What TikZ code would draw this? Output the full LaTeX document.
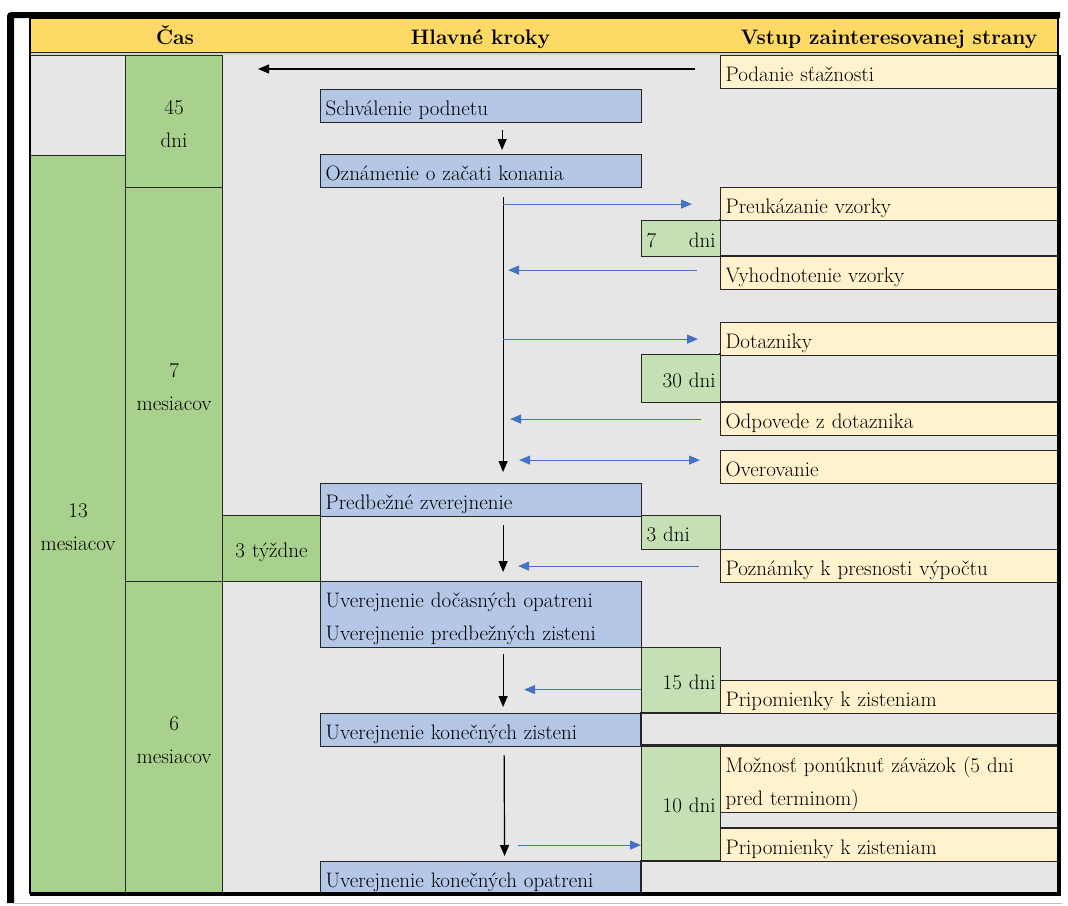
\documentclass[tikz,border=0pt]{standalone}
\usepackage{fontspec}
\usetikzlibrary{arrows.meta}
\definecolor{headbg}{RGB}{255,217,102}
\definecolor{greybg}{RGB}{231,230,230}
\definecolor{periodbg}{RGB}{169,209,142}
\definecolor{daysbg}{RGB}{197,224,180}
\definecolor{stepbg}{RGB}{180,199,231}
\definecolor{inputbg}{RGB}{255,242,204}
\definecolor{feedblue}{RGB}{68,114,196}
\definecolor{gridline}{RGB}{38,38,38}
\newcommand{\rowstrut}{\rule[-7.5pt]{0pt}{33pt}}

\begin{document}
\begin{tikzpicture}[x=1pt, y=-1pt,
    >={Triangle[length=11pt,width=9pt]},
    cell/.style={draw=gridline, line width=1.2pt, anchor=north west, inner xsep=5pt, inner ysep=0pt,
        font=\fontsize{21}{33}\selectfont, execute at begin node=\rowstrut, execute at end node=\rowstrut},
    stepbox/.style={cell, fill=stepbg, text width=311pt, align=left, minimum height=#1},
    stepbox/.default=32pt,
    inputbox/.style={cell, fill=inputbg, text width=328pt, align=left, minimum height=#1},
    inputbox/.default=33pt,
    daysbox/.style={cell, fill=daysbg, text width=69pt, align=right, minimum height=#1},
    periodbox/.style 2 args={cell, fill=periodbg, inner xsep=1pt, text width=#1, align=center, minimum height=#2},
    headtext/.style={font=\fontsize{21}{33}\selectfont\bfseries, inner sep=0pt, execute at begin node=\rowstrut},
    flow/.style={black, line width=1.2pt, ->},
    feed/.style={feedblue, line width=1.2pt, ->}
]
    \useasboundingbox (0,0) rectangle (1068,905);

    % Frame
    \fill[black] (7,903) [rounded corners=4pt] -- (7,12) [sharp corners] -- (1060,12) -- (1060,18) -- (14,18) -- (14,903) -- cycle;
    \draw[gray!50, line width=1pt] (14,903) -- (1062,903);

    % Header
    \fill[headbg] (30,18) rectangle (1058,52);
    \fill[gray!35] (30,52) rectangle (1058,55);
    \draw[gridline, line width=1pt] (30,52) -- (1058,52) (30,55) -- (1058,55);
    \node[headtext] (hcas) at (175,35) {Čas};
    \node[headtext] (hkroky) at (480.5,35) {Hlavné kroky};
    \node[headtext] (hvstup) at (889,35) {Vstup zainteresovanej strany};

    % Background
    \fill[greybg] (30,55) rectangle (1058,893);

    % Time columns
    \node[cell, fill=greybg, minimum width=95pt, minimum height=100pt] (blank) at (30,55) {};
    \node[periodbox={93pt}{738pt}] (total) at (30,155) {13\\mesiacov};
    \node[periodbox={95pt}{132pt}] (opening) at (125,55) {45\\dni};
    \node[periodbox={95pt}{394pt}] (phaseone) at (125,187) {7\\mesiacov};
    \node[periodbox={95pt}{312pt}] (phasetwo) at (125,581) {6\\mesiacov};
    \node[periodbox={96pt}{66pt}] (weeks) at (222,515) {3 týždne};

    % Main steps
    \node[stepbox] (approval) at (320,89) {Schválenie podnetu};
    \node[stepbox] (notice) at (320,154) {Oznámenie o začati konania};
    \node[stepbox] (prelim) at (320,483) {Predbežné zverejnenie};
    \node[stepbox=66pt] (provisional) at (320,581) {Uverejnenie dočasných opatreni\\Uverejnenie predbežných zisteni};
    \node[stepbox] (findings) at (320,713) {Uverejnenie konečných zisteni};
    \node[stepbox] (measures) at (320,861) {Uverejnenie konečných opatreni};

    % Empty bordered rows
    \foreach \top/\bot in {220/256, 354/402, 811/828}
        \draw[gridline, line width=1.2pt] (720,\top) rectangle (1058,\bot);
    \foreach \top/\bot in {713/745, 861/893}
        \draw[gridline, line width=1.2pt] (641,\top) rectangle (1058,\bot);

    % Party input
    \node[inputbox] (complaint) at (720,55) {Podanie sťažnosti};
    \node[inputbox] (sample) at (720,187) {Preukázanie vzorky};
    \node[inputbox] (evaluation) at (720,256) {Vyhodnotenie vzorky};
    \node[inputbox=32pt] (questionnaire) at (720,322) {Dotazniky};
    \node[inputbox] (replies) at (720,402) {Odpovede z dotaznika};
    \node[inputbox] (verification) at (720,450) {Overovanie};
    \node[inputbox=32pt] (remarks) at (720,549) {Poznámky k presnosti výpočtu};
    \node[inputbox=32pt] (comments) at (720,680) {Pripomienky k zisteniam};
    \node[inputbox=65pt] (undertaking) at (720,746) {Možnosť ponúknuť záväzok (5 dni\\pred terminom)};
    \node[inputbox=32pt] (lastcomments) at (720,828) {Pripomienky k zisteniam};

    % Deadlines
    \node[daysbox=36pt, align=left] (sevendays) at (641,220) {7\hfill dni};
    \node[daysbox=48pt] (thirtydays) at (641,354) {30 dni};
    \node[daysbox=34pt, align=left] (threedays) at (641,515) {3 dni};
    \node[daysbox=65pt] (fifteendays) at (641,647) {15 dni};
    \node[daysbox=114pt] (tendays) at (641,746) {10 dni};

    % Main flow
    \coordinate (spine) at ([xshift=22pt]notice.south);
    \coordinate (filed) at (258,69);
    \draw[flow, shorten <=25pt] (complaint.west |- filed) -- (filed);
    \draw[flow, shorten <=7pt, shorten >=4pt] ([xshift=21pt]approval.south) -- ([xshift=21pt]notice.north);
    \draw[flow, shorten <=9pt, shorten >=11pt] (spine) -- (spine |- prelim.north);
    \draw[flow, shorten <=8pt, shorten >=9pt] (prelim.south -| spine) -- (provisional.north -| spine);
    \draw[flow, shorten <=6pt, shorten >=6pt] (provisional.south -| spine) -- (findings.north -| spine);
    \draw[flow, shorten <=8pt, shorten >=5pt] ([xshift=1pt]findings.south -| spine) -- ([xshift=1.5pt]measures.north -| spine);

    % Party exchanges
    \draw[feed, shorten >=28pt] (sample.west -| spine) -- (sample.west);
    \draw[feed, shorten <=23pt, shorten >=5pt] ([yshift=3pt]evaluation.west) -- ([yshift=3pt]evaluation.west -| spine);
    \draw[feed, shorten >=22pt] (questionnaire.west -| spine) -- (questionnaire.west);
    \draw[feed, shorten <=19pt, shorten >=7pt] (replies.west) -- (replies.west -| spine);
    \draw[feed, <->, shorten <=16pt, shorten >=20pt] ([yshift=7pt]verification.west -| spine) -- ([yshift=7pt]verification.west);
    \draw[feed, shorten <=21pt, shorten >=15pt] (remarks.west) -- (remarks.west -| spine);
    \draw[feed, shorten >=21pt] ([yshift=-9.5pt]fifteendays.west) -- ([yshift=-9.5pt]fifteendays.west -| spine);
    \draw[feed, shorten <=15pt] (lastcomments.west -| spine) -- (lastcomments.west -| tendays.west);

    % Table border
    \draw[black, line width=1.5pt] (30,18) rectangle (1058,893);
    \draw[black, line width=3pt] (30,894) -- (1059.5,894) -- (1059.5,55);
\end{tikzpicture}
\end{document}
